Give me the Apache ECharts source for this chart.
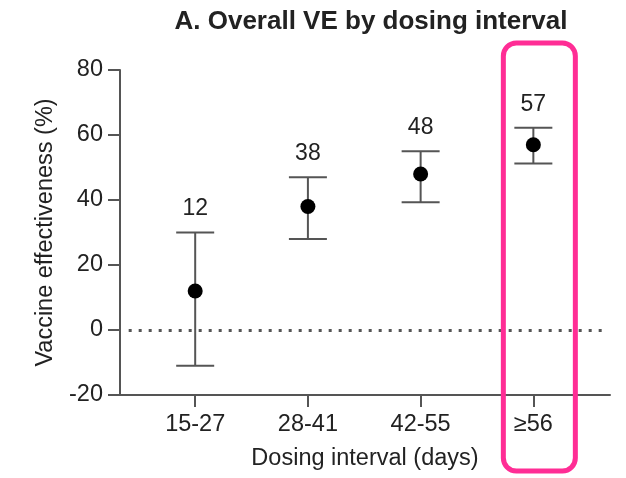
<!DOCTYPE html>
<html>
<head>
<meta charset="utf-8">
<script src="https://cdn.jsdelivr.net/npm/echarts@6/dist/echarts.min.js"></script>
<style>html,body{margin:0;padding:0;background:#fff;}#c{width:626px;height:478px;}</style>
</head>
<body>
<div id="c"></div>
<script>
var categories = ['15-27', '28-41', '42-55', '≥56'];
var estimates = [12, 38, 48, 57];
var lowerCI = [-11, 28, 39.3, 51.2];
var upperCI = [30, 47, 55, 62.2];
var yTicks = [-20, 0, 20, 40, 60, 80];

var FONT = 'Liberation Sans';
var chart = echarts.init(document.getElementById('c'));

var pointData = estimates.map(function (v, i) { return [i, v]; });
var barData = estimates.map(function (v, i) { return [i, lowerCI[i], upperCI[i], v]; });

chart.setOption({
  animation: false,
  title: {
    text: 'A. Overall VE by dosing interval',
    left: 366, top: 4, textAlign: 'center',
    textStyle: { fontFamily: FONT, fontSize: 26, fontWeight: 'bold', color: '#222' }
  },
  grid: { left: 120, right: 16, top: 70, bottom: 83 },
  xAxis: {
    type: 'value', min: -0.667, max: 3.68,
    name: 'Dosing interval (days)', nameLocation: 'middle', nameGap: 52,
    nameTextStyle: { fontFamily: FONT, fontSize: 23.5, color: '#222' },
    axisLine: { show: true, onZero: false, lineStyle: { color: '#555', width: 2 } },
    axisTick: { show: true, length: 12, customValues: [0, 1, 2, 3], lineStyle: { color: '#555', width: 2 } },
    axisLabel: {
      customValues: [0, 1, 2, 3], margin: 18,
      fontFamily: FONT, fontSize: 23.5, color: '#222',
      formatter: function (v) { return categories[Math.round(v)]; }
    },
    splitLine: { show: false }
  },
  yAxis: {
    type: 'value', min: -20, max: 80, interval: 20,
    name: 'Vaccine effectiveness (%)', nameLocation: 'middle', nameGap: 62,
    nameTextStyle: { fontFamily: FONT, fontSize: 23.5, color: '#222' },
    axisLine: { show: true, onZero: false, lineStyle: { color: '#555', width: 2 } },
    axisTick: { show: true, length: 12, lineStyle: { color: '#555', width: 2 } },
    axisLabel: {
      margin: 17, fontFamily: FONT, fontSize: 23.5, color: '#222',
      customValues: yTicks
    },
    splitLine: { show: false }
  },
  series: [
    {
      type: 'custom',
      data: barData,
      z: 2,
      renderItem: function (params, api) {
        var x = api.coord([api.value(0), 0])[0];
        var yLo = api.coord([0, api.value(1)])[1];
        var yHi = api.coord([0, api.value(2)])[1];
        var half = 19;
        var style = { stroke: '#555', lineWidth: 2 };
        return {
          type: 'group',
          children: [
            { type: 'line', shape: { x1: x, y1: yLo, x2: x, y2: yHi }, style: style },
            { type: 'line', shape: { x1: x - half, y1: yLo, x2: x + half, y2: yLo }, style: style },
            { type: 'line', shape: { x1: x - half, y1: yHi, x2: x + half, y2: yHi }, style: style },
            { type: 'text', style: {
                x: x, y: yHi - 12, text: String(api.value(3)),
                fontFamily: FONT, fontSize: 23, fill: '#222',
                textAlign: 'center', textVerticalAlign: 'bottom'
            } }
          ]
        };
      }
    },
    {
      type: 'scatter',
      data: pointData,
      symbol: 'circle', symbolSize: 15,
      itemStyle: { color: '#000', opacity: 1 },
      z: 3,
      markLine: {
        silent: true, symbol: 'none', label: { show: false },
        lineStyle: { type: [3, 7], color: '#555', width: 3 },
        data: [[{ coord: [-0.59, 0] }, { coord: [3.63, 0] }]]
      }
    }
  ]
});

var px = chart.convertToPixel({ xAxisIndex: 0 }, 3);
chart.setOption({
  graphic: [{
    type: 'rect',
    shape: { x: px - 30, y: 43, width: 72, height: 428, r: 13 },
    style: { fill: 'none', stroke: '#ff2d95', lineWidth: 5 },
    z: 10
  }]
});
</script>
</body>
</html>
